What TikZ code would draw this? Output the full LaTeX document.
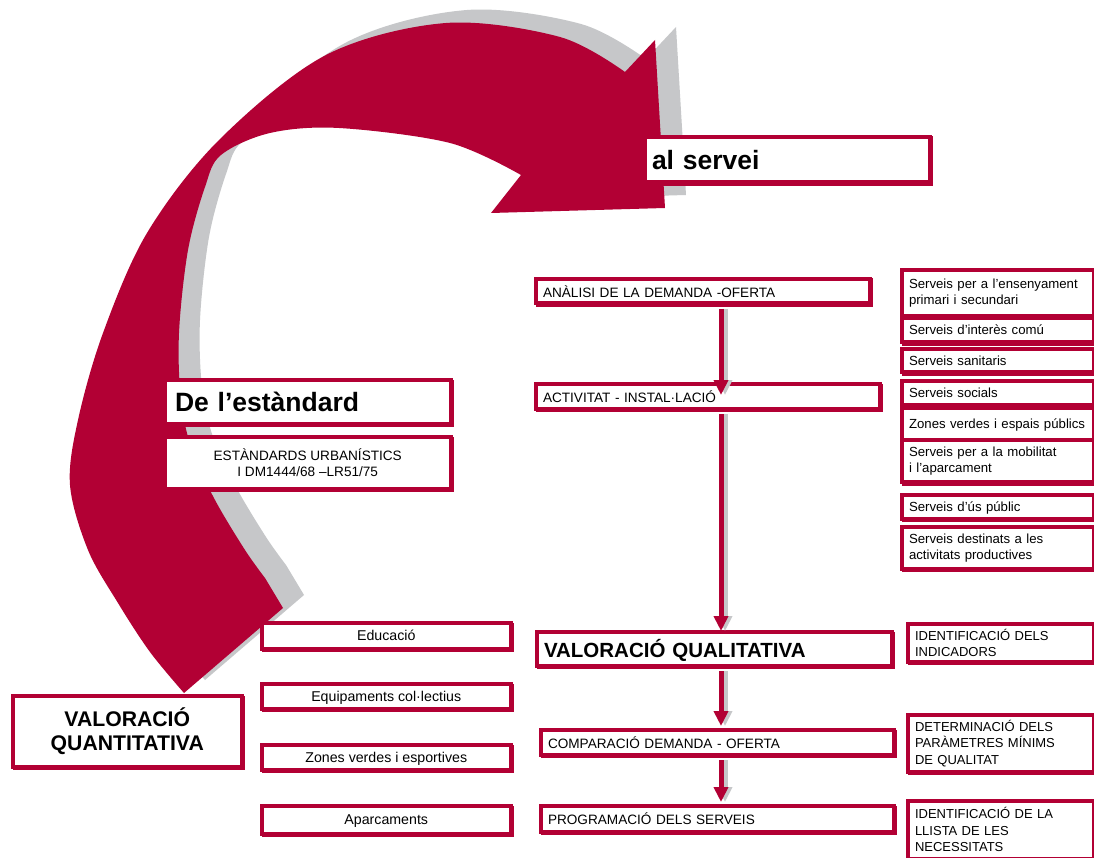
\documentclass[tikz,border=0pt]{standalone}
\usepackage{fontspec}
\setmainfont{Liberation Sans}
\usetikzlibrary{arrows.meta}
\definecolor{crim}{RGB}{178,0,52}
\definecolor{shd}{RGB}{198,199,201}
\newcommand\fsz[2]{\fontsize{#1}{#2}\selectfont}
\newcommand\rbox[7]{%
  \pgfmathsetmacro\rbW{#4-#2-5.5}%
  \pgfmathsetmacro\rbH{#5-#3-5.5}%
  \pgfmathsetmacro\rbX{(#2+#4-1.5)/2}%
  \pgfmathsetmacro\rbY{(#3+#5-1.5)/2}%
  \pgfmathsetmacro\rbT{\rbW-14}%
  \node[rb,minimum width=\rbW pt,minimum height=\rbH pt,#6] (#1) at (\rbX,\rbY) {#7};}
\newcommand\bigCpath{plot[smooth,tension=0.55] coordinates {(184,693) (150,652) (118,603) (88,550) (70,485) (78,420) (103,333) (147,233) (219,140) (326,55) (446,23) (560,37) (625,72)} -- (655,40) -- (665,208) -- (491,213) -- (521,175) -- plot[smooth,tension=0.55] coordinates {(521,175) (450,143) (339,128) (270,133) (221,155) (205,187) (188,250) (179,333) (181,400) (192,450) (215,500) (245,550) (265,578)} -- (283,608) -- cycle}
\tikzset{
  rb/.style={draw=crim, line width=4pt, fill=white, inner xsep=7pt, inner ysep=0pt,
    preaction={draw=crim, line width=4pt, transform canvas={xshift=1.5pt,yshift=-1.5pt}}},
  lt/.style={align=left, text width=\rbT pt},
  ct/.style={align=center},
  one/.style={text depth=0pt},
  sm/.style={font=\fsz{13.6}{16}},
  lc/.style={font=\fsz{14.2}{16}},
  sv/.style={font=\fsz{13.2}{16}},
  idt/.style={font=\fsz{13}{16.5}},
  bigb/.style={font=\bfseries\fsz{26.5}{30}},
  midb/.style={font=\bfseries\fsz{20.5}{24}},
  varr/.style={line width=5pt, -{Triangle[width=14pt,length=15pt]}},
}
\begin{document}
\begin{tikzpicture}[x=1pt,y=-1pt]
\fill[white] (0,0) rectangle (1094,858);
\useasboundingbox (0,0) rectangle (1094,858);
% big curved arrow with its shadow
\fill[shd, shift={(21,-13)}] \bigCpath;
\fill[crim] \bigCpath;
% left / title boxes
\rbox{als}{643}{135}{933}{186}{lt,bigb,one}{al servei}
\rbox{dle}{163}{378}{454}{427}{lt,bigb,one}{\hspace*{3pt}De l’estàndard}
\rbox{est}{163}{435}{454}{492}{ct,sm}{ESTÀNDARDS URBANÍSTICS\\I DM1444/68 –LR51/75}
\rbox{vqn}{11}{694}{245}{770}{ct,midb,font=\bfseries\fsz{21.2}{24}}{VALORACIÓ\\QUANTITATIVA}
\rbox{edu}{260}{621}{514}{652}{ct,lc,one}{Educació}
\rbox{equ}{260}{682}{514}{712}{ct,lc,one}{Equipaments col·lectius}
\rbox{zve}{260}{743}{514}{773}{ct,lc,one}{Zones verdes i esportives}
\rbox{apa}{260}{804}{514}{837}{ct,lc,one}{Aparcaments}
% central column
\rbox{ana}{534}{277}{873}{307}{lt,sm,one}{ANÀLISI DE LA DEMANDA -OFERTA}
\rbox{act}{534}{382}{883}{412}{lt,sm,one}{ACTIVITAT - INSTAL·LACIÓ}
\rbox{vql}{535}{630}{895}{669}{lt,midb,one}{VALORACIÓ QUALITATIVA}
\rbox{cmp}{539}{728}{897}{758}{lt,sm,one}{COMPARACIÓ DEMANDA - OFERTA}
\rbox{prg}{539}{804}{897}{835}{lt,sm,one}{PROGRAMACIÓ DELS SERVEIS}
% services column
\rbox{s1}{900}{268}{1097}{320}{lt,sv}{Serveis per a l’ensenyament\\primari i secundari}
\rbox{s2}{900}{316}{1097}{345.5}{lt,sv,one}{Serveis d’interès comú}
\rbox{s3}{900}{347}{1097}{375.5}{lt,sv,one}{Serveis sanitaris}
\rbox{s4}{900}{379}{1097}{408.5}{lt,sv,one}{Serveis socials}
\rbox{s5}{900}{406}{1097}{443.5}{lt,sv,one}{Zones verdes i espais públics}
\rbox{s6}{900}{438}{1097}{485.5}{lt,sv}{Serveis per a la mobilitat\\i l’aparcament}
\rbox{s7}{900}{493}{1097}{522}{lt,sv,one}{Serveis d’ús públic}
\rbox{s8}{900}{525}{1097}{572}{lt,sv}{Serveis destinats a les\\activitats productives}
% identification column
\rbox{i1}{906}{622}{1097}{665}{lt,idt}{IDENTIFICACIÓ DELS\\INDICADORS}
\rbox{i2}{906}{713}{1097}{775}{lt,idt}{DETERMINACIÓ DELS\\PARÀMETRES MÍNIMS\\DE QUALITAT}
\rbox{i3}{906}{799}{1097}{862}{lt,idt}{IDENTIFICACIÓ DE LA\\LLISTA DE LES\\NECESSITATS}
% vertical arrows
\coordinate (ax) at (721,0);
\foreach \a/\b/\e in {ana/act/-13pt, act/vql/-1pt, vql/cmp/2pt, cmp/prg/2pt}{
  \draw[varr, shd, transform canvas={xshift=4pt}] ([yshift=-3.5pt]\a.south -| ax) -- ([yshift=\e]\b.north -| ax);
  \draw[varr, crim] ([yshift=-3.5pt]\a.south -| ax) -- ([yshift=\e]\b.north -| ax);
}
\end{tikzpicture}
\end{document}
